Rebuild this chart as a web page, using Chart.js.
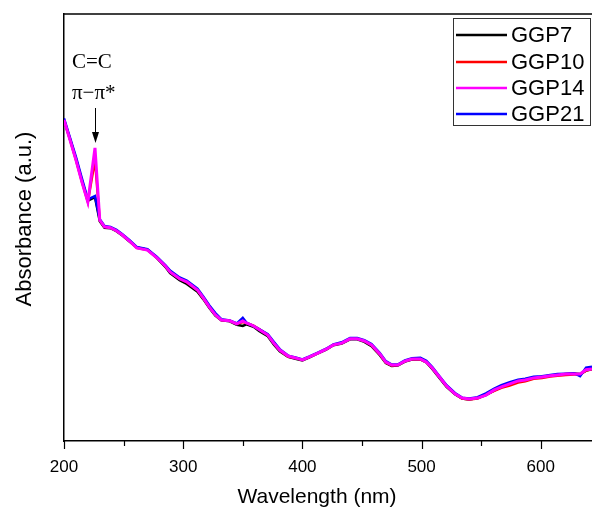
<!DOCTYPE html>
<html>
<head>
<meta charset="utf-8">
<script src="https://cdn.jsdelivr.net/npm/chart.js@4.4.1/dist/chart.umd.min.js"></script>
<style>
  html, body { margin: 0; padding: 0; background: #fff; }
  #wrap { width: 592px; height: 509px; }
</style>
</head>
<body>
<div id="wrap"><canvas id="chart" width="592" height="509"></canvas></div>
<script>
const wavelengths = [200,205,210,215,220,226,230,234,239,244,249,255,261,270,278,285,289,297,303,312,317,322,327,332,339,345,350,353,359,364,371,376,381,388,395,400,406,413,420,426,433,440,446,452,458,465,470,475,480,486,492,499,504,509,515,521,528,534,540,547,554,561,567,574,581,587,594,601,608,614,621,628,633,638,643];

const ggp7 = [0.748,0.704,0.658,0.607,0.560,0.568,0.512,0.497,0.496,0.489,0.479,0.465,0.451,0.446,0.426,0.406,0.391,0.375,0.366,0.348,0.330,0.310,0.292,0.281,0.279,0.271,0.268,0.272,0.266,0.256,0.244,0.225,0.209,0.196,0.191,0.188,0.195,0.204,0.213,0.223,0.227,0.237,0.237,0.231,0.221,0.200,0.182,0.175,0.176,0.185,0.190,0.190,0.183,0.168,0.147,0.126,0.109,0.099,0.097,0.100,0.107,0.118,0.126,0.134,0.140,0.143,0.147,0.150,0.152,0.154,0.156,0.157,0.156,0.164,0.167];
const ggp10 = [0.748,0.702,0.655,0.604,0.557,0.655,0.514,0.499,0.497,0.490,0.480,0.466,0.450,0.445,0.427,0.408,0.394,0.378,0.370,0.351,0.332,0.312,0.294,0.282,0.280,0.273,0.277,0.275,0.269,0.260,0.247,0.228,0.211,0.197,0.193,0.189,0.196,0.205,0.214,0.224,0.228,0.238,0.238,0.233,0.223,0.202,0.183,0.176,0.177,0.186,0.191,0.190,0.184,0.170,0.149,0.128,0.110,0.099,0.097,0.099,0.108,0.117,0.124,0.129,0.136,0.139,0.145,0.147,0.150,0.152,0.154,0.155,0.155,0.164,0.167];
const ggp14 = [0.748,0.702,0.655,0.604,0.557,0.683,0.515,0.499,0.497,0.490,0.480,0.466,0.450,0.445,0.427,0.408,0.394,0.378,0.371,0.352,0.333,0.312,0.294,0.282,0.280,0.273,0.280,0.275,0.268,0.259,0.247,0.228,0.212,0.198,0.193,0.189,0.196,0.205,0.214,0.224,0.228,0.238,0.238,0.233,0.224,0.203,0.184,0.177,0.177,0.186,0.191,0.191,0.184,0.170,0.149,0.128,0.110,0.100,0.098,0.100,0.107,0.119,0.126,0.133,0.140,0.142,0.147,0.149,0.152,0.154,0.156,0.156,0.156,0.166,0.168];
const ggp21 = [0.752,0.707,0.662,0.612,0.563,0.571,0.517,0.501,0.499,0.492,0.482,0.468,0.452,0.447,0.429,0.410,0.397,0.381,0.374,0.355,0.336,0.316,0.298,0.284,0.281,0.274,0.287,0.276,0.268,0.260,0.249,0.231,0.214,0.199,0.194,0.190,0.197,0.206,0.215,0.225,0.230,0.240,0.240,0.235,0.226,0.205,0.186,0.178,0.178,0.188,0.193,0.194,0.187,0.172,0.151,0.130,0.112,0.101,0.099,0.102,0.111,0.122,0.130,0.137,0.143,0.145,0.150,0.151,0.154,0.156,0.157,0.158,0.151,0.171,0.173];

const seriesNames = ['GGP7', 'GGP10', 'GGP14', 'GGP21'];
const seriesColors = ['#000000', '#ff0000', '#ff00ff', '#0000ff'];
const xTicks = [200, 300, 400, 500, 600];
const xMinorTicks = [250, 350, 450, 550, 650];

const toPoints = ys => ys.map((y, i) => ({ x: wavelengths[i], y: y }));
const SANS = '"Liberation Sans", Arial, sans-serif'

// axis frame, minor/major ticks, titles, legend box and the pi-pi* annotation
const decorPlugin = {
  id: 'decor',
  afterDraw(chart) {
    const ctx = chart.ctx
    const area = chart.chartArea
    const xs = chart.scales.x
    ctx.save()
    ctx.strokeStyle = '#000'
    ctx.lineWidth = 1.5
    ctx.beginPath()
    ctx.moveTo(area.left, area.top)
    ctx.lineTo(area.right, area.top)
    ctx.stroke()

    ctx.lineWidth = 1.2
    xTicks.forEach(v => {
      const px = Math.round(xs.getPixelForValue(v)) + 0.5
      ctx.beginPath(); ctx.moveTo(px, area.bottom); ctx.lineTo(px, area.bottom + 8); ctx.stroke()
    })
    xMinorTicks.forEach(v => {
      const px = Math.round(xs.getPixelForValue(v)) + 0.5
      if (px > area.right) return
      ctx.beginPath(); ctx.moveTo(px, area.bottom); ctx.lineTo(px, area.bottom + 5); ctx.stroke()
    })

    // axis titles
    ctx.fillStyle = '#000'
    ctx.font = '21px ' + SANS
    ctx.textAlign = 'center'
    ctx.textBaseline = 'middle'
    ctx.fillText('Wavelength (nm)', 317, 497)
    ctx.save()
    ctx.translate(25, 219)
    ctx.rotate(-Math.PI / 2)
    ctx.font = '22px ' + SANS
    ctx.fillText('Absorbance (a.u.)', 0, 0)
    ctx.restore()
    ctx.textAlign = 'left'

    // legend
    ctx.lineWidth = 1
    ctx.strokeStyle = '#333'
    ctx.strokeRect(453.5, 18.5, 137, 107)
    ctx.font = '22px ' + SANS
    ctx.textBaseline = 'middle'
    const rows = [35, 62, 88, 114]
    chart.data.datasets.forEach((ds, i) => {
      ctx.strokeStyle = ds.borderColor
      ctx.lineWidth = 2.5
      ctx.beginPath(); ctx.moveTo(456, rows[i]); ctx.lineTo(507, rows[i]); ctx.stroke()
      ctx.fillText(ds.label, 511, rows[i] + 1)
    })

    // annotation
    const ax = Math.round(xs.getPixelForValue(226)) + 0.5
    ctx.font = '21px "Liberation Serif", "Times New Roman", serif'
    ctx.textBaseline = 'alphabetic'
    ctx.fillText('C=C', 72, 68)
    ctx.fillText('\u03c0\u2212\u03c0*', 72, 99)
    ctx.strokeStyle = '#000'
    ctx.lineWidth = 1
    ctx.beginPath(); ctx.moveTo(ax, 108); ctx.lineTo(ax, 135); ctx.stroke()
    ctx.beginPath()
    ctx.moveTo(ax - 3.5, 132); ctx.lineTo(ax + 3.5, 132); ctx.lineTo(ax, 143); ctx.closePath()
    ctx.fill()
    ctx.restore()
  }
}

const makeSet = (i, data, width, order) => ({
  label: seriesNames[i],
  data: toPoints(data),
  borderColor: seriesColors[i],
  backgroundColor: seriesColors[i],
  borderWidth: width,
  pointRadius: 0,
  tension: 0,
  order: order
})

new Chart(document.getElementById('chart').getContext('2d'), {
  type: 'line',
  data: {
    datasets: [
      makeSet(0, ggp7, 2.5, 3),
      makeSet(1, ggp10, 2.5, 2),
      makeSet(2, ggp14, 3, 0),
      makeSet(3, ggp21, 2.5, 1)
    ]
  },
  options: {
    responsive: false,
    animation: false,
    layout: { padding: { top: 14, right: 0, left: 0, bottom: 0 } },
    plugins: { legend: { display: false }, tooltip: { enabled: false } },
    scales: {
      x: {
        type: 'linear',
        min: 200,
        max: 643,
        afterFit: s => { s.height = 68 },
        afterBuildTicks: s => { s.ticks = xTicks.map(v => ({ value: v })) },
        grid: { display: false },
        border: { display: true, color: '#000', width: 1.5 },
        ticks: {
          color: '#000',
          padding: 8,
          maxRotation: 0,
          font: { family: SANS, size: 17 }
        },
        title: { display: false }
      },
      y: {
        min: 0,
        max: 0.995,
        afterFit: s => { s.width = 64 },
        grid: { display: false },
        border: { display: true, color: '#000', width: 1.5 },
        ticks: { display: false },
        title: { display: false }
      }
    }
  },
  plugins: [decorPlugin]
})
</script>
</body>
</html>
